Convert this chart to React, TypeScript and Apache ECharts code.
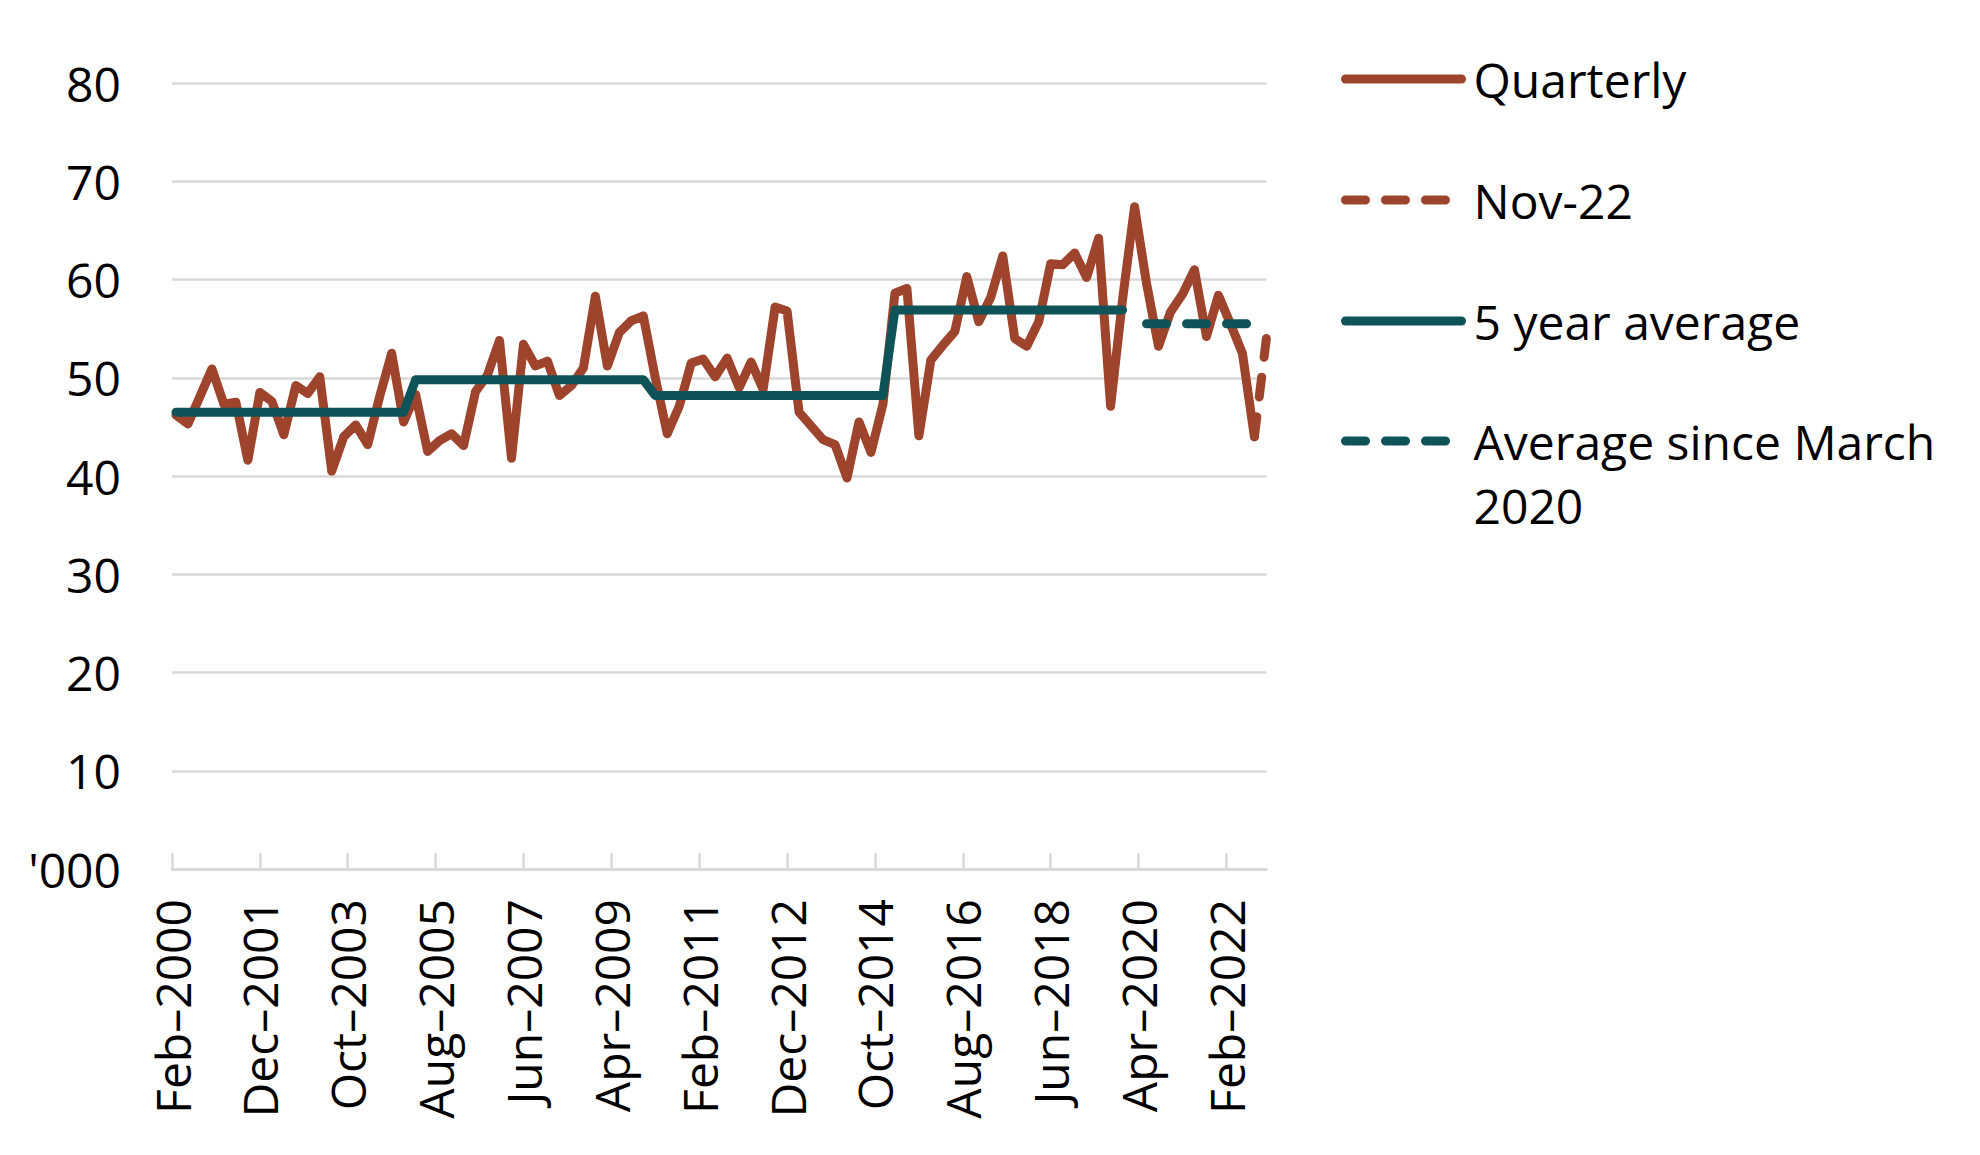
import React, { useEffect, useRef } from "react";
import * as echarts from "echarts";

// ---- Data (thousands), quarterly observations Mar-2000 .. Dec-2022 ----
// Quarterly series: Mar-2000 .. Sep-2022
const quarterly: number[] = [
  46.2, 45.3, 48.1, 50.9, 47.3, 47.5, 41.6, 48.5, 47.6, 44.2,
  49.2, 48.4, 50.1, 40.5, 44.0, 45.2, 43.2, 48.1, 52.5, 45.5,
  48.3, 42.5, 43.6, 44.3, 43.1, 48.6, 50.3, 53.8, 41.8, 53.4,
  51.2, 51.7, 48.2, 49.2, 51.0, 58.3, 51.2, 54.6, 55.8, 56.3,
  50.0, 44.3, 47.1, 51.5, 51.9, 50.1, 52.0, 49.0, 51.6, 48.8,
  57.2, 56.8, 46.5, 45.1, 43.7, 43.2, 39.8, 45.5, 42.4, 47.3,
  58.6, 59.1, 44.1, 51.8, 53.3, 54.7, 60.3, 55.7, 58.2, 62.4,
  54.0, 53.2, 55.7, 61.6, 61.5, 62.7, 60.2, 64.2, 47.1, 58.0,
  67.4, 59.6, 53.2, 56.7, 58.5, 61.0, 54.2, 58.4, 55.5, 52.5,
  44.0,
];
// Nov-22 vintage: last two quarters
const nov22StartIndex = 90;
const nov22: number[] = [44.0, 54.0];

// 5 year average: constant over 20-quarter blocks
const fiveYearAverage: { value: number; quarters: number }[] = [
  { value: 46.5, quarters: 20 },
  { value: 49.8, quarters: 20 },
  { value: 48.2, quarters: 20 },
  { value: 56.9, quarters: 20 },
];

// Average since March 2020
const sinceMarch2020StartIndex = 81;
const sinceMarch2020EndIndex = 90;
const sinceMarch2020Value = 55.5;

// Axis
const xTickStepMonths = 22;
const xTickLabels = [
  "Feb–2000", "Dec–2001", "Oct–2003", "Aug–2005", "Jun–2007", "Apr–2009", "Feb–2011",
  "Dec–2012", "Oct–2014", "Aug–2016", "Jun–2018", "Apr–2020", "Feb–2022",
];
const yTickLabels = ["'000", "10", "20", "30", "40", "50", "60", "70", "80"];

const seriesNames = ["Quarterly", "Nov-22", "5 year average", "Average since March 2020"];

// months since Feb-2000 for quarter index i
const monthOf = (i: number) => 1 + 3 * i;
const X_MAX = monthOf(91);

const BROWN = "#9E442D";
const TEAL = "#0E5357";
const GRID = "#d9d9d9";
const FONT = "Open Sans";
const DASH = [20, 20];
const LW = 9;

function buildOption() {
  const qData = quarterly.map((v, i) => [monthOf(i), v]);
  const nData = nov22.map((v, k) => [monthOf(nov22StartIndex + k), v]);
  const fyData: number[][] = [];
  let idx = 0;
  fiveYearAverage.forEach((p) => {
    for (let k = 0; k < p.quarters; k++) {
      fyData.push([monthOf(idx), p.value]);
      idx++;
    }
  });
  const smData: number[][] = [];
  for (let i = sinceMarch2020StartIndex; i <= sinceMarch2020EndIndex; i++) {
    smData.push([monthOf(i), sinceMarch2020Value]);
  }
  const tickValues = xTickLabels.map((_, k) => k * xTickStepMonths);

  const lineBase = {
    type: "line" as const,
    symbol: "none",
    showSymbol: false,
    silent: true,
    emphasis: { disabled: true },
  };

  const legendCommon = {
    orient: "vertical" as const,
    left: 1341,
    padding: 0,
    itemWidth: 116,
    itemHeight: 8,
    selectedMode: false,
    itemStyle: { opacity: 0 },
    lineStyle: { width: LW },
  };
  const legendText = {
    fontFamily: FONT,
    fontSize: 48,
    color: "#000",
    lineHeight: 64,
    padding: [0, 0, 0, 7],
  };

  return {
    animation: false,
    backgroundColor: "#ffffff",
    textStyle: { fontFamily: FONT },
    grid: {
      left: 172,
      top: 83,
      right: 1980 - (172 + X_MAX * 3.994),
      bottom: 286,
      containLabel: false,
      outerBoundsMode: "none",
    },
    legend: [
      {
        ...legendCommon,
        top: 47,
        itemGap: 57,
        data: seriesNames.slice(0, 3),
        textStyle: legendText,
      },
      {
        ...legendCommon,
        top: 345,
        data: [seriesNames[3]],
        formatter: () => "\nAverage since March\n2020",
        textStyle: legendText,
      },
    ],
    xAxis: {
      type: "value",
      min: 0,
      max: X_MAX,
      interval: xTickStepMonths,
      axisLine: { show: true, lineStyle: { color: GRID, width: 2.5 } },
      axisTick: {
        show: true,
        inside: true,
        length: 16,
        customValues: tickValues,
        lineStyle: { color: GRID, width: 2.5 },
      },
      splitLine: { show: false },
      axisLabel: {
        rotate: 90,
        margin: 30,
        fontFamily: FONT,
        fontSize: 48,
        color: "#000",
        customValues: tickValues,
        formatter: (v: number) => {
          if (v % xTickStepMonths !== 0) return "";
          return xTickLabels[v / xTickStepMonths] ?? "";
        },
      },
    },
    yAxis: {
      type: "value",
      min: 0,
      max: 80,
      interval: 10,
      axisLine: { show: false },
      axisTick: { show: false },
      splitLine: { show: true, lineStyle: { color: GRID, width: 2.5 } },
      axisLabel: {
        margin: 51,
        fontFamily: FONT,
        fontSize: 48,
        color: "#000",
        formatter: (v: number) => yTickLabels[Math.round(v / 10)] ?? String(v),
      },
    },
    series: [
      {
        ...lineBase,
        name: seriesNames[0],
        data: qData,
        z: 2,
        lineStyle: { color: BROWN, width: LW, type: "solid", cap: "round", join: "round" },
        itemStyle: { color: BROWN },
      },
      {
        ...lineBase,
        name: seriesNames[1],
        data: nData,
        z: 3,
        lineStyle: { color: BROWN, width: LW, type: DASH, cap: "round", join: "round" },
        itemStyle: { color: BROWN },
      },
      {
        ...lineBase,
        name: seriesNames[2],
        data: fyData,
        z: 4,
        lineStyle: { color: TEAL, width: LW, type: "solid", cap: "round", join: "round" },
        itemStyle: { color: TEAL },
      },
      {
        ...lineBase,
        name: seriesNames[3],
        data: smData,
        z: 5,
        lineStyle: { color: TEAL, width: LW, type: DASH, cap: "round", join: "round" },
        itemStyle: { color: TEAL },
      },
    ],
  };
}

export default function App() {
  const ref = useRef<HTMLDivElement>(null);
  useEffect(() => {
    if (!ref.current) return;
    const chart = echarts.init(ref.current, null, { renderer: "svg" });
    chart.setOption(buildOption() as any);
    return () => chart.dispose();
  }, []);
  return (
    <div
      ref={ref}
      style={{ position: "fixed", left: 0, top: 0, width: 1980, height: 1155, background: "#fff" }}
    />
  );
}
